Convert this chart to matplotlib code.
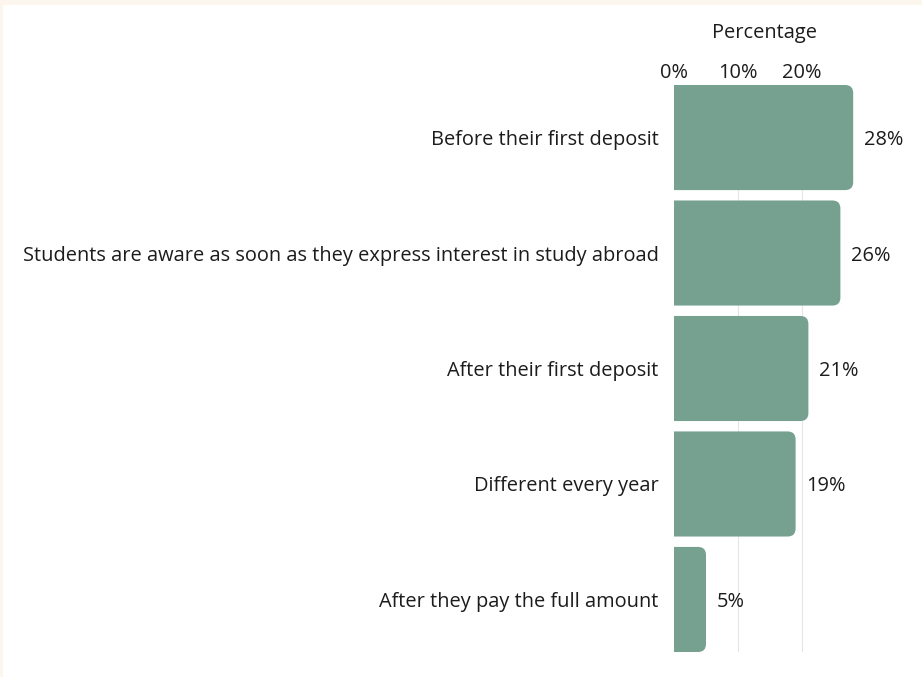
import matplotlib
matplotlib.use("Agg")
import matplotlib.pyplot as plt
from matplotlib.patches import FancyBboxPatch, Rectangle

categories = [
    "Before their first deposit",
    "Students are aware as soon as they express interest in study abroad",
    "After their first deposit",
    "Different every year",
    "After they pay the full amount",
]
values = [28, 26, 21, 19, 5]
tick_values = [0, 10, 20]
tick_labels = ["0%", "10%", "20%"]

plt.rcParams['font.family'] = ['Open Sans', 'DejaVu Sans']
FS = 14.4
TC = "#1c1c1c"
W, H = 922, 677
fig = plt.figure(figsize=(W / 100, H / 100), dpi=100)
fig.patch.set_facecolor("#fdf6ee")
bg = fig.add_axes([3 / W, -0.05, 1, 1.05 - 5 / H], zorder=-5)
bg.axis("off")
bg.add_patch(Rectangle((0, 0), 1, 1, transform=bg.transAxes, facecolor="white",
                       edgecolor="none"))

left, right = 674, 922
top, bottom = 85, 652
ax = fig.add_axes([left / W, 1 - bottom / H, (right - left) / W, (bottom - top) / H], zorder=2)
ax.set_facecolor("none")
px_per_unit = 6.4
xmax = (right - left) / px_per_unit
ax.set_xlim(0, xmax)
bh = 0.91
ax.set_ylim(len(categories) - 1 + bh / 2, -bh / 2)

color = "#76a08f"
bars = ax.barh(range(len(categories)), values, height=bh, color=color)
ypx = (bottom - top) / (len(categories) - 1 + bh)
r_px = 8
rx = r_px / px_per_unit
ry = r_px / ypx
for b in bars:
    x0, y0 = b.get_x(), b.get_y()
    w, h = b.get_width(), b.get_height()
    b.set_visible(False)
    ext = 3 * rx
    p = FancyBboxPatch((x0 - ext, y0), w + ext, h,
                       boxstyle=f"round,pad=0,rounding_size={rx}",
                       mutation_aspect=ry / rx,
                       facecolor=color, edgecolor="none", zorder=2)
    ax.add_patch(p)

for i, v in enumerate(values):
    ax.annotate(f"{v}%", (v, i), xytext=(7.5, 0), textcoords="offset points",
                ha="left", va="center_baseline", fontsize=FS, color=TC)

for t in tick_values[1:]:
    ax.axvline(t, color="#e6e6e6", lw=0.8, zorder=1)

ax.set_yticks(range(len(categories)))
ax.set_yticklabels(categories, fontsize=FS, color=TC)
ax.tick_params(axis="y", length=0, pad=11)
ax.xaxis.tick_top()
ax.set_xticks(tick_values)
ax.set_xticklabels(tick_labels, fontsize=FS, color=TC)
ax.tick_params(axis="x", length=0, pad=1.5)
for s in ax.spines.values():
    s.set_visible(False)

fig.text(764 / W, 1 - 33 / H, "Percentage", ha="center", va="center",
         fontsize=FS, color=TC)

fig.savefig("out.png", dpi=100, facecolor=fig.get_facecolor())
